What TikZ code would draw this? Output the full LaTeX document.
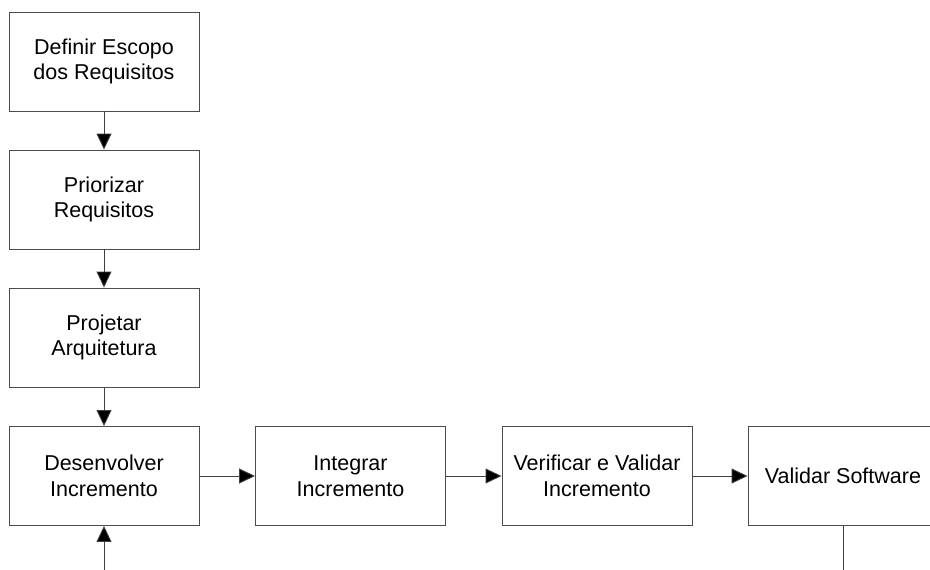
\documentclass[tikz,border=0pt]{standalone}
\usepackage{fontspec}
\setmainfont{Liberation Sans}
\usetikzlibrary{arrows.meta}
\begin{document}
\begin{tikzpicture}[x=1pt,y=-1pt,
  stepbox/.style={draw=black!70, line width=0.9pt, minimum width=190pt, minimum height=99pt,
    inner sep=0pt, align=center, font=\fontsize{21.5pt}{25.5pt}\selectfont},
  flow/.style={draw=black!75, line width=0.9pt, -{Triangle[length=16pt,width=15pt,fill=black]}},
  plain/.style={draw=black!75, line width=0.9pt}]
\useasboundingbox (0,0) rectangle (930,570);
\clip (0,0) rectangle (930,570);
\node[stepbox] (escopo) at (104,61.5) {Definir Escopo\\dos Requisitos};
\node[stepbox] (priorizar) at (104,199.5) {Priorizar\\Requisitos};
\node[stepbox] (projetar) at (104,337.5) {Projetar\\Arquitetura};
\node[stepbox] (desenv) at (104,476) {Desenvolver\\Incremento};
\node[stepbox] (integrar) at (350.5,476) {Integrar\\Incremento};
\node[stepbox] (verificar) at (597,476) {Verificar e Validar\\Incremento};
\node[stepbox] (validar) at (843,476) {Validar Software};
\coordinate (retorno) at (104,572);
\coordinate (saida) at (843,572);
\draw[flow] (escopo) -- (priorizar);
\draw[flow] (priorizar) -- (projetar);
\draw[flow] (projetar) -- (desenv);
\draw[flow] (desenv) -- (integrar);
\draw[flow] (integrar) -- (verificar);
\draw[flow] (verificar) -- (validar);
\draw[flow] (retorno) -- (desenv);
\draw[plain] (validar) -- (saida);
\end{tikzpicture}
\end{document}
